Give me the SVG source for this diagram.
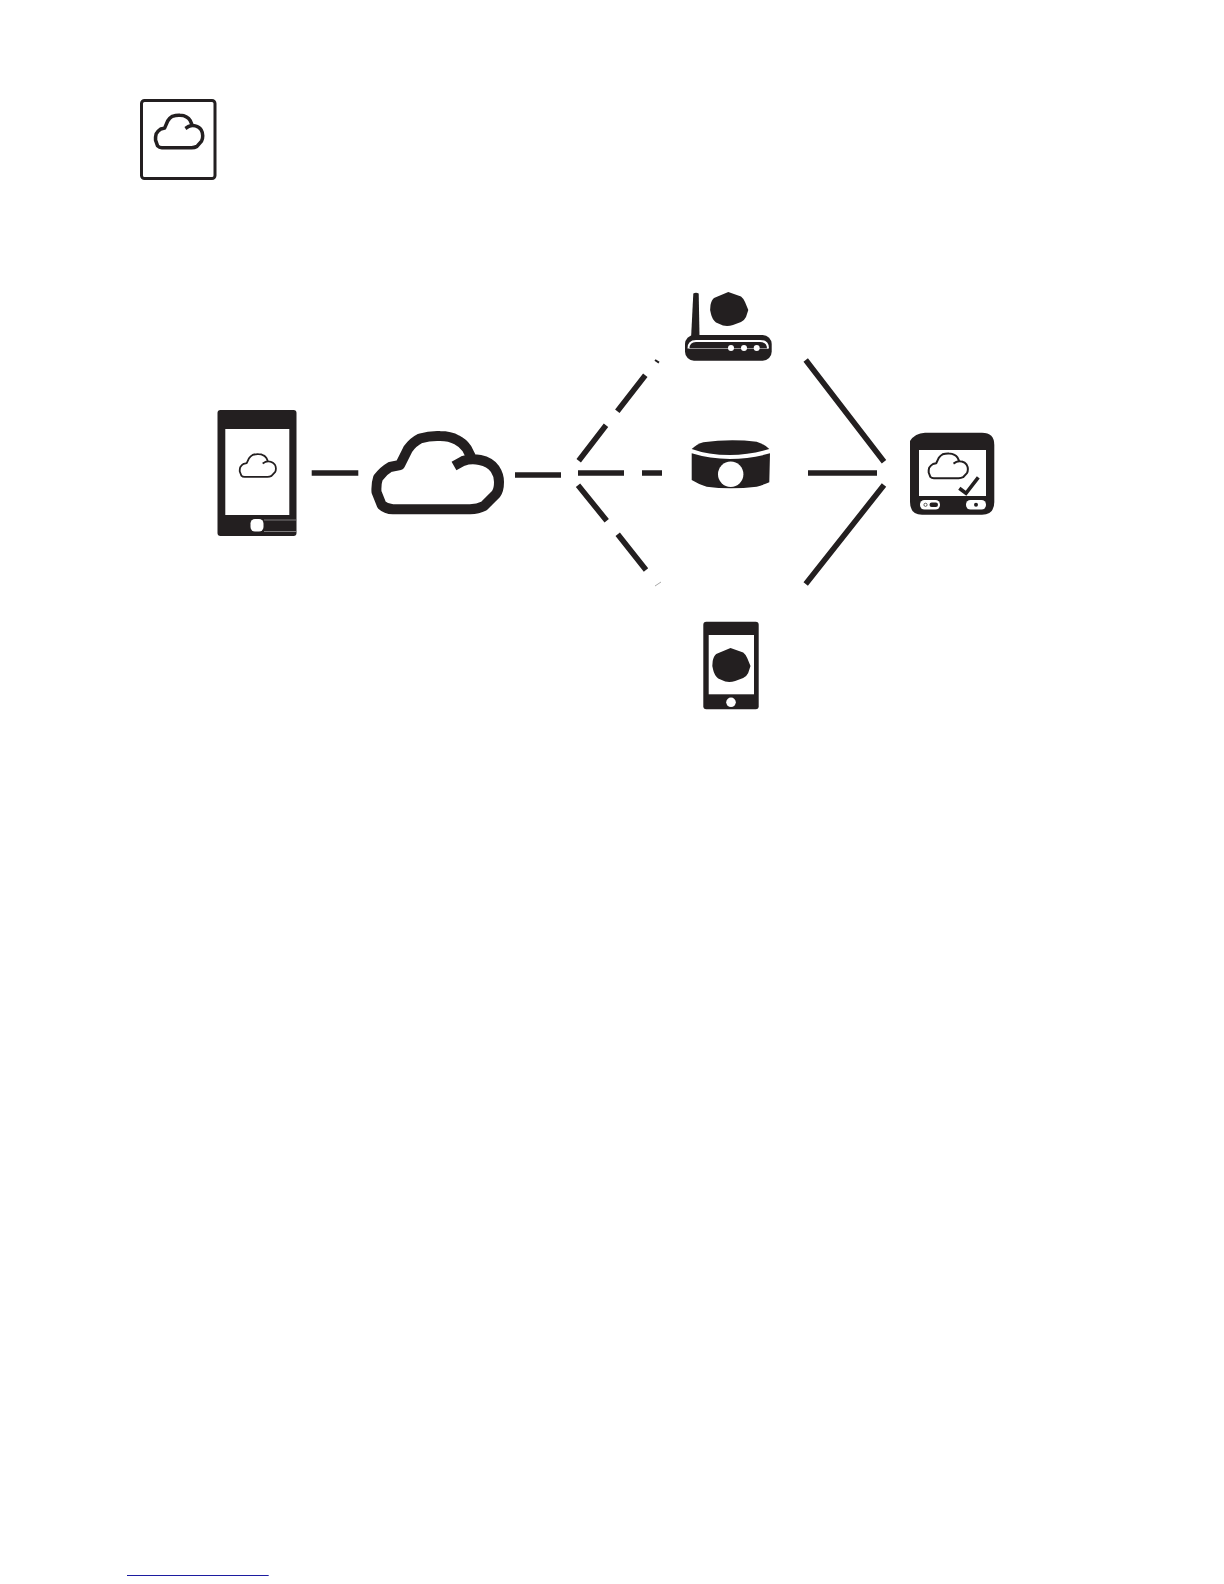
<svg xmlns="http://www.w3.org/2000/svg" width="1224" height="1584" viewBox="0 0 1224 1584">
<style>
.k{fill:#231f20}
.w{fill:#fff}
.c{fill:none;stroke:#231f20;stroke-linejoin:round}
#cloud{vector-effect:non-scaling-stroke}
.d{stroke:#231f20;stroke-width:5.6;fill:none}
</style>
<defs>
<path id="cloud" d="M454 466L463 461Q471 458 480 460Q490 462 495 469Q499 475 499 482Q499 490 496 494L484 506Q478 509 470 509.300L393 509.300Q386 509 381.700 505L376.500 492Q376 484 378 478Q383 471 390 467L400 465L408 449Q413 442 420 438.500Q430 435.500 440 436Q450 436 457 440Q463 443 466.700 448.300L471.700 458.300"/>
<path id="blob" d="M728.300 292L741 296.500Q744 299 745 302L748.300 310L746 317Q744 321 741 322L733 325Q728 326.500 723 325.500L716 322.500Q712 319 711 314Q709.500 310 710.500 305Q711.500 300 714 298Z"/>
</defs>
<rect width="1224" height="1584" fill="#fff"/>
<g id="badge">
<rect x="141.500" y="100.500" width="73.500" height="78" rx="3" fill="#fff" stroke="#231f20" stroke-width="3"/>
<use href="#cloud" class="c" style="stroke-width:3.500" transform="translate(10.600 -78.800) scale(.385 .445)"/>
</g>
<g id="phone">
<rect class="k" x="217.500" y="410" width="79" height="126" rx="3"/>
<rect class="w" x="225.300" y="429" width="64" height="86"/>
<rect class="w" x="250.500" y="519" width="13" height="12.500" rx="4.500"/>
<path d="M264 520H296M264 531.500H296" stroke="#b8b8b8" stroke-width=".6" fill="none"/>
<use href="#cloud" class="c" style="stroke-width:1.800" transform="translate(128.700 319) scale(.295 .31)"/>
</g>
<g id="cloud-node">
<use href="#cloud" class="c" style="stroke-width:10"/>
</g>
<g id="router">
<path class="k" d="M693.300 293.500Q696 292 698.700 293.500L699.500 336L691 339Z"/>
<use href="#blob" class="k"/>
<rect class="k" x="685" y="335" width="86.700" height="25.700" rx="9"/>
<path d="M688.500 348.500Q688.500 341 696 341H760Q768 341 768 348.500" fill="none" stroke="#fff" stroke-width="2"/>
<path d="M689 348.500H768" fill="none" stroke="#fff" stroke-width=".5"/>
<circle class="w" cx="731" cy="348" r="3"/><circle class="w" cx="744" cy="348" r="3"/><circle class="w" cx="756.700" cy="348" r="3"/>
</g>
<g id="hub">
<path class="k" d="M691.700 449Q697 444 703.300 442.300Q730 438.500 756.700 441.700Q764 444 769.300 449Q750 455 730 455Q708 455 691.700 449Z"/>
<path class="k" d="M691.700 453.300Q710 459 730 459Q750 459 770 453.300L769.300 482.300Q763 485 756.700 486.700Q730 490 706.700 486.700Q698 484 691.700 480Z"/>
<circle class="w" cx="730.700" cy="474.300" r="12.700"/>
</g>
<g id="tablet">
<path class="k" d="M910 441Q915 433 925 432.700H982Q994.300 432.700 994.300 445V502Q994.300 514.700 982 514.700H922Q910 514.700 910 502Z"/>
<rect class="w" x="919" y="450" width="67" height="46"/>
<use href="#cloud" class="c" style="stroke-width:2" transform="translate(808.200 305.200) scale(.32 .34)"/>
<path d="M959.300 488.300L966 493.300L978.300 477.300" fill="none" stroke="#231f20" stroke-width="3.600"/>
<rect class="w" x="920" y="500" width="20" height="9.500" rx="4.500"/>
<rect class="k" x="929.500" y="502.500" width="8.500" height="4.500" rx="2.200"/>
<circle cx="925.500" cy="504.800" r="1.600" fill="none" stroke="#231f20" stroke-width=".7"/>
<rect class="w" x="966" y="500" width="20" height="9.500" rx="4.500"/>
<circle class="k" cx="976" cy="504.800" r="2"/>
</g>
<g id="tablet-small">
<rect class="k" x="703.300" y="621.700" width="55.400" height="87.600" rx="3"/>
<rect class="w" x="708.700" y="635" width="45.300" height="59.300"/>
<circle class="w" cx="731" cy="702.300" r="4.800"/>
<use href="#blob" class="k" transform="translate(2.200 356)"/>
</g>
<g id="connectors">
<path class="d" d="M311.700 473H358.300M515 475H561M578 473H624M642 473H662"/>
<path class="d" d="M578.700 460.700L606 425.300M617.300 411.300L645.300 375.300M578 485.300L606.700 520.700M617.700 534.300L646 570"/>
<path d="M655 360L659 362.700" stroke="#231f20" stroke-width="2"/>
<path d="M655 586L661 582" stroke="#aaa" stroke-width="1"/>
<path class="d" d="M805.700 360L884 461.700M808 473H877M884 485L805.700 584"/>
</g>
<path id="footnote-rule" d="M127 1575.500H268.700" stroke="#1c1ca0" stroke-width="1"/>
</svg>
